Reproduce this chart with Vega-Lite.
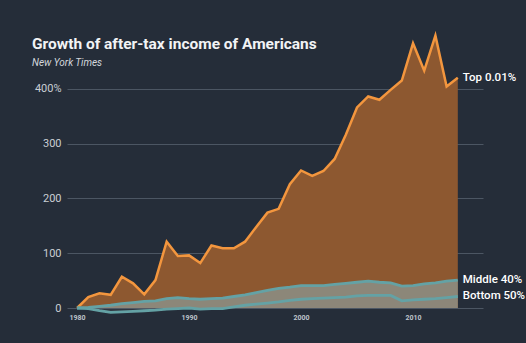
{
  "$schema": "https://vega.github.io/schema/vega-lite/v6.json",
  "width": 416,
  "height": 274,
  "autosize": {"type": "none"},
  "padding": {"left": 67, "top": 34, "right": 43, "bottom": 35},
  "background": "#252d39",
  "title": {
    "text": "Growth of after-tax income of Americans",
    "subtitle": "New York Times",
    "anchor": "start",
    "frame": "group",
    "dx": -35,
    "dy": 41,
    "font": "Roboto",
    "fontSize": 15.5,
    "fontWeight": "bold",
    "color": "#f2f3f5",
    "subtitleFont": "Roboto",
    "subtitleFontSize": 10,
    "subtitleFontStyle": "italic",
    "subtitleColor": "#d3d7dc",
    "subtitlePadding": 5
  },
  "config": {
    "view": {"stroke": null},
    "font": "Roboto"
  },
  "data": {
    "values": [
      {"year": 1980, "group": "Top 0.01%", "value": 0},
      {"year": 1981, "group": "Top 0.01%", "value": 20},
      {"year": 1982, "group": "Top 0.01%", "value": 27},
      {"year": 1983, "group": "Top 0.01%", "value": 24},
      {"year": 1984, "group": "Top 0.01%", "value": 57},
      {"year": 1985, "group": "Top 0.01%", "value": 45},
      {"year": 1986, "group": "Top 0.01%", "value": 25},
      {"year": 1987, "group": "Top 0.01%", "value": 51},
      {"year": 1988, "group": "Top 0.01%", "value": 121},
      {"year": 1989, "group": "Top 0.01%", "value": 95},
      {"year": 1990, "group": "Top 0.01%", "value": 96},
      {"year": 1991, "group": "Top 0.01%", "value": 82},
      {"year": 1992, "group": "Top 0.01%", "value": 114},
      {"year": 1993, "group": "Top 0.01%", "value": 109},
      {"year": 1994, "group": "Top 0.01%", "value": 109},
      {"year": 1995, "group": "Top 0.01%", "value": 121},
      {"year": 1996, "group": "Top 0.01%", "value": 148},
      {"year": 1997, "group": "Top 0.01%", "value": 174},
      {"year": 1998, "group": "Top 0.01%", "value": 181},
      {"year": 1999, "group": "Top 0.01%", "value": 226},
      {"year": 2000, "group": "Top 0.01%", "value": 251},
      {"year": 2001, "group": "Top 0.01%", "value": 241},
      {"year": 2002, "group": "Top 0.01%", "value": 250},
      {"year": 2003, "group": "Top 0.01%", "value": 272},
      {"year": 2004, "group": "Top 0.01%", "value": 316},
      {"year": 2005, "group": "Top 0.01%", "value": 366},
      {"year": 2006, "group": "Top 0.01%", "value": 386},
      {"year": 2007, "group": "Top 0.01%", "value": 380},
      {"year": 2008, "group": "Top 0.01%", "value": 398},
      {"year": 2009, "group": "Top 0.01%", "value": 415},
      {"year": 2010, "group": "Top 0.01%", "value": 483},
      {"year": 2011, "group": "Top 0.01%", "value": 433},
      {"year": 2012, "group": "Top 0.01%", "value": 497},
      {"year": 2013, "group": "Top 0.01%", "value": 404},
      {"year": 2014, "group": "Top 0.01%", "value": 420},
      {"year": 1980, "group": "Middle 40%", "value": 0},
      {"year": 1981, "group": "Middle 40%", "value": 1},
      {"year": 1982, "group": "Middle 40%", "value": 3},
      {"year": 1983, "group": "Middle 40%", "value": 5},
      {"year": 1984, "group": "Middle 40%", "value": 8},
      {"year": 1985, "group": "Middle 40%", "value": 10},
      {"year": 1986, "group": "Middle 40%", "value": 12},
      {"year": 1987, "group": "Middle 40%", "value": 13},
      {"year": 1988, "group": "Middle 40%", "value": 17},
      {"year": 1989, "group": "Middle 40%", "value": 19},
      {"year": 1990, "group": "Middle 40%", "value": 17},
      {"year": 1991, "group": "Middle 40%", "value": 16},
      {"year": 1992, "group": "Middle 40%", "value": 17},
      {"year": 1993, "group": "Middle 40%", "value": 18},
      {"year": 1994, "group": "Middle 40%", "value": 21},
      {"year": 1995, "group": "Middle 40%", "value": 24},
      {"year": 1996, "group": "Middle 40%", "value": 28},
      {"year": 1997, "group": "Middle 40%", "value": 32},
      {"year": 1998, "group": "Middle 40%", "value": 36},
      {"year": 1999, "group": "Middle 40%", "value": 38},
      {"year": 2000, "group": "Middle 40%", "value": 41},
      {"year": 2001, "group": "Middle 40%", "value": 41},
      {"year": 2002, "group": "Middle 40%", "value": 41},
      {"year": 2003, "group": "Middle 40%", "value": 43},
      {"year": 2004, "group": "Middle 40%", "value": 45},
      {"year": 2005, "group": "Middle 40%", "value": 47},
      {"year": 2006, "group": "Middle 40%", "value": 49},
      {"year": 2007, "group": "Middle 40%", "value": 47},
      {"year": 2008, "group": "Middle 40%", "value": 46},
      {"year": 2009, "group": "Middle 40%", "value": 40},
      {"year": 2010, "group": "Middle 40%", "value": 41},
      {"year": 2011, "group": "Middle 40%", "value": 44},
      {"year": 2012, "group": "Middle 40%", "value": 46},
      {"year": 2013, "group": "Middle 40%", "value": 49},
      {"year": 2014, "group": "Middle 40%", "value": 51},
      {"year": 1980, "group": "Bottom 50%", "value": 0},
      {"year": 1981, "group": "Bottom 50%", "value": -1},
      {"year": 1982, "group": "Bottom 50%", "value": -5},
      {"year": 1983, "group": "Bottom 50%", "value": -8},
      {"year": 1984, "group": "Bottom 50%", "value": -7},
      {"year": 1985, "group": "Bottom 50%", "value": -6},
      {"year": 1986, "group": "Bottom 50%", "value": -5},
      {"year": 1987, "group": "Bottom 50%", "value": -4},
      {"year": 1988, "group": "Bottom 50%", "value": -2},
      {"year": 1989, "group": "Bottom 50%", "value": -1},
      {"year": 1990, "group": "Bottom 50%", "value": 0},
      {"year": 1991, "group": "Bottom 50%", "value": -2},
      {"year": 1992, "group": "Bottom 50%", "value": -1},
      {"year": 1993, "group": "Bottom 50%", "value": -1},
      {"year": 1994, "group": "Bottom 50%", "value": 2},
      {"year": 1995, "group": "Bottom 50%", "value": 5},
      {"year": 1996, "group": "Bottom 50%", "value": 7},
      {"year": 1997, "group": "Bottom 50%", "value": 9},
      {"year": 1998, "group": "Bottom 50%", "value": 11},
      {"year": 1999, "group": "Bottom 50%", "value": 14},
      {"year": 2000, "group": "Bottom 50%", "value": 16},
      {"year": 2001, "group": "Bottom 50%", "value": 17},
      {"year": 2002, "group": "Bottom 50%", "value": 18},
      {"year": 2003, "group": "Bottom 50%", "value": 19},
      {"year": 2004, "group": "Bottom 50%", "value": 20},
      {"year": 2005, "group": "Bottom 50%", "value": 22},
      {"year": 2006, "group": "Bottom 50%", "value": 23},
      {"year": 2007, "group": "Bottom 50%", "value": 23},
      {"year": 2008, "group": "Bottom 50%", "value": 23},
      {"year": 2009, "group": "Bottom 50%", "value": 13},
      {"year": 2010, "group": "Bottom 50%", "value": 15},
      {"year": 2011, "group": "Bottom 50%", "value": 16},
      {"year": 2012, "group": "Bottom 50%", "value": 17},
      {"year": 2013, "group": "Bottom 50%", "value": 19},
      {"year": 2014, "group": "Bottom 50%", "value": 21}
    ]
  },
  "encoding": {
    "x": {
      "field": "year",
      "type": "quantitative",
      "scale": {"domain": [1979.1, 2016.25], "nice": false, "zero": false},
      "axis": {
        "title": null,
        "values": [1980, 1990, 2000, 2010],
        "format": "d",
        "grid": false,
        "domain": false,
        "ticks": false,
        "labelFontSize": 7,
        "labelFontWeight": "bold",
        "labelColor": "#bfc4cb",
        "labelPadding": 5
      }
    },
    "y": {
      "field": "value",
      "type": "quantitative",
      "scale": {"domain": [0, 500], "nice": false},
      "axis": {
        "title": null,
        "values": [0, 100, 200, 300, 400],
        "labelExpr": "datum.value == 400 ? '400%' : datum.label",
        "grid": true,
        "gridColor": "#4c5663",
        "gridWidth": 1,
        "domain": false,
        "ticks": false,
        "labelFontSize": 11,
        "labelColor": "#c9ced4",
        "labelPadding": 6
      }
    }
  },
  "layer": [
    {
      "transform": [{"filter": "datum.group == 'Top 0.01%'"}],
      "mark": {
        "type": "area",
        "color": "#8d5830",
        "fillOpacity": 1,
        "line": {"color": "#f3963e", "strokeWidth": 2.5}
      }
    },
    {
      "transform": [{"filter": "datum.group == 'Middle 40%'"}],
      "mark": {
        "type": "area",
        "color": "#8c8779",
        "fillOpacity": 1,
        "line": {"color": "#64a2a5", "strokeWidth": 2.8}
      }
    },
    {
      "transform": [{"filter": "datum.group == 'Bottom 50%'"}],
      "mark": {
        "type": "area",
        "color": "#8c8779",
        "fillOpacity": 0.12,
        "line": {"color": "#64a2a5", "strokeWidth": 2.8}
      }
    },
    {
      "transform": [{"filter": "datum.year == 2014"}],
      "mark": {
        "type": "text",
        "align": "left",
        "baseline": "middle",
        "dx": 5,
        "fontSize": 11.5,
        "fontWeight": 500,
        "color": "#ffffff"
      },
      "encoding": {"text": {"field": "group"}}
    }
  ]
}
